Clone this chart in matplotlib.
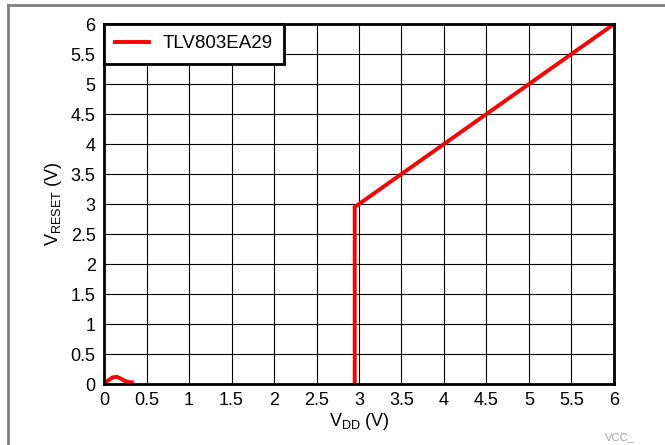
import matplotlib.pyplot as plt
from matplotlib.lines import Line2D

plt.rcParams['font.family'] = ['Liberation Sans', 'DejaVu Sans']

# datos
vdd = [0.0, 0.05, 0.1, 0.15, 0.2, 0.25, 0.3, 0.35, 2.95, 2.95, 2.95, 6.0]
vreset = [0.02, 0.06, 0.11, 0.12, 0.09, 0.05, 0.03, 0.03, 0.0, 0.0, 2.95, 6.0]
serie = 'TLV803EA29'
xticks = [0, 0.5, 1, 1.5, 2, 2.5, 3, 3.5, 4, 4.5, 5, 5.5, 6]
yticks = [0, 0.5, 1, 1.5, 2, 2.5, 3, 3.5, 4, 4.5, 5, 5.5, 6]

fig = plt.figure(figsize=(6.65, 4.45), dpi=100)
ax = fig.add_axes([0.1564, 0.137, 0.7669, 0.809])

# bump y salto por separado
ax.plot(vdd[:8], vreset[:8], color='#ff0000', lw=2.8, solid_capstyle='butt')
ax.plot(vdd[8:], vreset[8:], color='#ff0000', lw=2.8, solid_joinstyle='miter')

ax.set_xlim(0, 6)
ax.set_ylim(0, 6)
ax.set_xticks(xticks)
ax.set_yticks(yticks)
ax.set_xticklabels([f'{t:g}' for t in xticks])
ax.set_yticklabels([f'{t:g}' for t in yticks])
ax.tick_params(length=0, labelsize=13, pad=6)
ax.grid(True, color='black', lw=0.8)
for s in ax.spines.values():
    s.set_linewidth(2)
    s.set_zorder(5)

ax.set_xlabel('V$_{\\mathregular{DD}}$ (V)', fontsize=13, labelpad=1)
ax.set_ylabel('V$_{\\mathregular{RESET}}$ (V)', fontsize=13, labelpad=5)

leg = ax.legend([Line2D([0], [0], color='#ff0000', lw=2.8)], [serie],
                loc='upper left', bbox_to_anchor=(0, 1), borderaxespad=0,
                fancybox=False, framealpha=1, edgecolor='black',
                fontsize=13.5, handlelength=1.8, handletextpad=0.7, borderpad=0.6)
leg.get_frame().set_linewidth(2)
leg.set_zorder(6)

# marco exterior
fig.add_artist(Line2D([8 / 665, 1], [1 - 5 / 445, 1 - 5 / 445], color='#808080', lw=2))
fig.add_artist(Line2D([8 / 665, 8 / 665], [0, 1 - 5 / 445], color='#808080', lw=2))

fig.text(620 / 665, 1 - 437 / 445, 'VCC_', color='#a0a0a0', fontsize=8, va='center', ha='center')

fig.savefig('out.png', dpi=100)
